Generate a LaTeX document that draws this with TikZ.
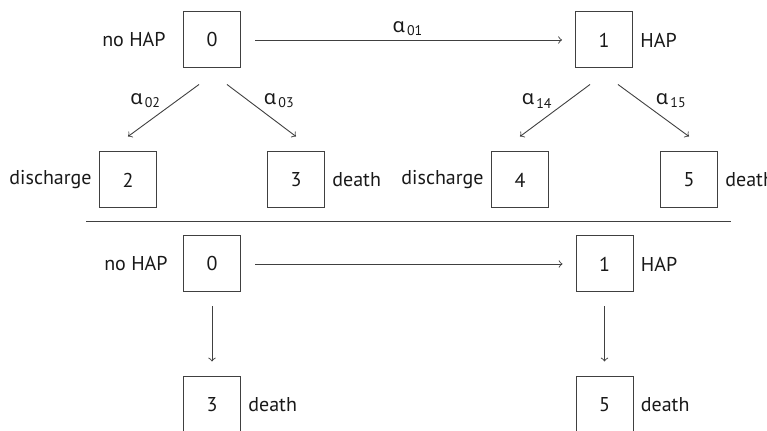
\documentclass[tikz,border=0pt]{standalone}
\usepackage{fontspec}
\setmainfont{PT Sans}
\newfontfamily\greekfont{Noto Sans}
\usepackage{tikz}
\usetikzlibrary{positioning}
\tikzstyle{state} = [rectangle, minimum width=28.5pt, minimum height=28pt, text centered, draw=black!75, line width=0.5pt, text=black!90]
\tikzstyle{side} = [inner sep=0pt, text=black!90]
\tikzstyle{rate} = [inner sep=1pt, text=black!90]
\tikzstyle{arrow} = [->, draw=black!75, line width=0.45pt]
\newcommand{\alp}[1]{{\greekfont α}\kern1pt\textsubscript{#1}}

\begin{document}
\begin{tikzpicture}[x=0.5pt, y=-0.5pt, font=\fontsize{10}{12}\selectfont]
    \useasboundingbox (0,0) rectangle (767,431);
    % illness-death model with competing discharge
    \node (a0) [state] at (212,40) {0};
    \node (a1) [state] at (604,40) {1};
    \node (a2) [state] at (128,180) {2};
    \node (a3) [state] at (296,180) {3};
    \node (a4) [state] at (520,180) {4};
    \node (a5) [state] at (689,180) {5};
    \node (la0) [side, left=8.5pt of a0] {no HAP};
    \node (la1) [side, right=3.5pt of a1] {HAP};
    \node (la2) [side, left=3.5pt of a2] {discharge};
    \node (la3) [side, right=3.5pt of a3] {death};
    \node (la4) [side, left=3.5pt of a4] {discharge};
    \node (la5) [side, right=3.5pt of a5] {death};
    \draw [arrow, shorten <=7pt, shorten >=6.5pt] (a0) -- node[rate, above, yshift=1pt] {\alp{01}} (a1);
    \draw [arrow] ([shift={(-13,16)}]a0.south) -- node[rate, above left] {\alp{02}} ([shift={(0,-15)}]a2.north);
    \draw [arrow] ([shift={(15,16)}]a0.south) -- node[rate, above right] {\alp{03}} ([shift={(0,-15)}]a3.north);
    \draw [arrow] ([shift={(-14,16)}]a1.south) -- node[rate, above left] {\alp{14}} ([shift={(0,-15)}]a4.north);
    \draw [arrow] ([shift={(14,16)}]a1.south) -- node[rate, above right] {\alp{15}} ([shift={(0,-15)}]a5.north);
    % divider
    \draw [draw=black!75, line width=0.5pt] (86,222) -- (731,222);
    % reduced model
    \node (b0) [state] at (212,264) {0};
    \node (b1) [state] at (604.5,264) {1};
    \node (b3) [state] at (212,405) {3};
    \node (b5) [state] at (604.5,405) {5};
    \node (lb0) [side, left=7.5pt of b0] {no HAP};
    \node (lb1) [side, right=3.5pt of b1] {HAP};
    \node (lb3) [side, right=3.5pt of b3] {death};
    \node (lb5) [side, right=3.5pt of b5] {death};
    \draw [arrow, shorten <=7pt, shorten >=6.5pt] (b0) -- (b1);
    \draw [arrow, shorten <=7pt, shorten >=7.5pt] (b0) -- (b3);
    \draw [arrow, shorten <=7pt, shorten >=7.5pt] (b1) -- (b5);
\end{tikzpicture}
\end{document}
